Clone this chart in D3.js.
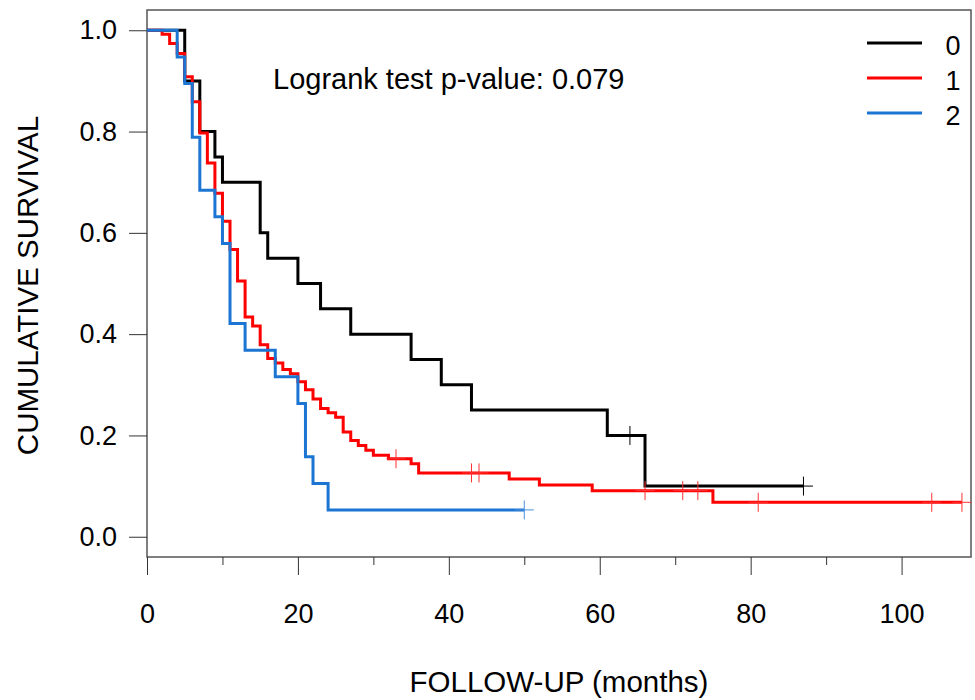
<!DOCTYPE html>
<html>
<head>
<meta charset="utf-8">
<script src="https://cdn.jsdelivr.net/npm/d3@7"></script>
<style>
  body { margin: 0; background: #fff; }
  text { font-family: "Liberation Sans", Arial, sans-serif; }
</style>
</head>
<body>
<div id="chart"></div>
<script>
// Set the dimensions of the picture
const width = 975, height = 700;
const plot = { left: 147, right: 971, top: 10, bottom: 557 };

// ---- data ----
const groups = ["0", "1", "2"];
const colors = ["#000000", "#ff0000", "#1c75d2"];
const censorColors = ["#000000", "#ff3030", "#4a90dc"];

// group 0 (step times and survival after each step; last point = end of follow-up)
const times0 = [0, 5, 7, 9, 10, 15, 16, 20, 23, 27, 35, 39, 43, 61, 66, 87];
const surv0  = [1, 0.9, 0.8, 0.75, 0.7, 0.6, 0.55, 0.5, 0.45, 0.4, 0.35, 0.3, 0.25, 0.2, 0.1, 0.1];
const censor0 = [64, 87];

// group 1
const times1 = [0, 2, 3, 4, 5, 6, 7, 8, 9, 10, 11, 12, 13, 14, 15, 16, 17, 18, 19, 20,
                21, 22, 23, 24, 25, 26, 27, 28, 29, 30, 32, 35, 36, 48, 52, 59, 75, 108];
const surv1  = [1, 0.992, 0.974, 0.954, 0.908, 0.859, 0.797, 0.738, 0.678, 0.623, 0.567, 0.505, 0.434, 0.416, 0.379, 0.352, 0.343, 0.330, 0.322, 0.306,
                0.29, 0.272, 0.253, 0.245, 0.236, 0.207, 0.19, 0.18, 0.171, 0.161, 0.154, 0.144, 0.126, 0.114, 0.102, 0.091, 0.068, 0.068];
const censor1 = [33, 43, 44, 66, 71, 73, 81, 104, 108];

// group 2
const times2 = [0, 4, 5, 6, 7, 9, 10, 11, 13, 17, 20, 21, 22, 24, 50];
const surv2  = [1, 0.947, 0.895, 0.789, 0.684, 0.632, 0.579, 0.421, 0.368, 0.316, 0.263, 0.158, 0.105, 0.053, 0.053];
const censor2 = [50];

const xTicks = [0, 20, 40, 60, 80, 100];
const xMinorTicks = [10, 30, 50, 70, 90];
const yTicks = [0, 0.2, 0.4, 0.6, 0.8, 1.0];
const pValueText = "Logrank test p-value: 0.079";

const series = [
  { times: times0, surv: surv0, censor: censor0 },
  { times: times1, surv: surv1, censor: censor1 },
  { times: times2, surv: surv2, censor: censor2 }
];

// ---- drawing ----
const svg = d3.select("#chart").append("svg")
    .attr("width", width)
    .attr("height", height);

const x = d3.scaleLinear().domain([0, 109.2]).range([plot.left, plot.right]);
const y = d3.scaleLinear().domain([-0.04, 1.04]).range([plot.bottom, plot.top]);

// box
svg.append("rect")
    .attr("x", plot.left)
    .attr("y", plot.top)
    .attr("width", plot.right - plot.left)
    .attr("height", plot.bottom - plot.top)
    .attr("fill", "none")
    .attr("stroke", "#555")
    .attr("stroke-width", 1.5);

// x axis
const xAxis = svg.append("g")
    .attr("transform", `translate(0,${plot.bottom})`)
    .call(d3.axisBottom(x).tickValues(xTicks).tickSize(18).tickPadding(29).tickFormat(d3.format("d")));
xAxis.select(".domain").remove();
xAxis.selectAll("line").attr("stroke", "#333");
xAxis.selectAll("text").attr("font-size", 27).attr("fill", "#000")
    .attr("font-family", "'Liberation Sans', Arial, sans-serif");

const xMinor = svg.append("g")
    .attr("transform", `translate(0,${plot.bottom})`)
    .call(d3.axisBottom(x).tickValues(xMinorTicks).tickSize(8).tickFormat(""));
xMinor.select(".domain").remove();
xMinor.selectAll("line").attr("stroke", "#333");

// y axis
const yAxis = svg.append("g")
    .attr("transform", `translate(${plot.left},0)`)
    .call(d3.axisLeft(y).tickValues(yTicks).tickSize(18).tickPadding(12).tickFormat(d3.format(".1f")));
yAxis.select(".domain").remove();
yAxis.selectAll("line").attr("stroke", "#333");
yAxis.selectAll("text").attr("font-size", 27).attr("fill", "#000")
    .attr("font-family", "'Liberation Sans', Arial, sans-serif");

// axis titles
svg.append("text")
    .attr("x", (plot.left + plot.right) / 2)
    .attr("y", 692)
    .attr("text-anchor", "middle")
    .attr("font-size", 29.5)
    .text("FOLLOW-UP (months)");

svg.append("text")
    .attr("transform", `translate(38,${(plot.top + plot.bottom) / 2 + 2}) rotate(-90)`)
    .attr("text-anchor", "middle")
    .attr("font-size", 29.5)
    .text("CUMULATIVE SURVIVAL");

// p-value note
svg.append("text")
    .attr("x", 273)
    .attr("y", 89)
    .attr("font-size", 29)
    .text(pValueText);

// survival curves
const stepLine = d3.line()
    .x(d => x(d[0]))
    .y(d => y(d[1]))
    .curve(d3.curveStepAfter);

function survAt(s, t) {
  let v = s.surv[0];
  s.times.forEach((tt, i) => { if (tt <= t) v = s.surv[i]; });
  return v;
}

series.forEach((s, i) => {
  const pts = s.times.map((t, k) => [t, s.surv[k]]);
  svg.append("path")
      .attr("d", stepLine(pts))
      .attr("fill", "none")
      .attr("stroke", colors[i])
      .attr("stroke-width", 3)
      .attr("stroke-linejoin", "miter");

  // censor marks
  const g = svg.append("g").attr("stroke", censorColors[i]).attr("stroke-width", 1);
  s.censor.forEach(t => {
    const cx = x(t), cy = y(survAt(s, t));
    g.append("line").attr("x1", cx).attr("x2", cx).attr("y1", cy - 9.5).attr("y2", cy + 9.5);
    g.append("line").attr("x1", cx - 9.5).attr("x2", cx + 9.5).attr("y1", cy).attr("y2", cy);
  });
});

// legend
const legend = svg.append("g");
groups.forEach((name, i) => {
  const ly = 43 + i * 35;
  legend.append("line")
      .attr("x1", 867).attr("x2", 922)
      .attr("y1", ly).attr("y2", ly)
      .attr("stroke", colors[i])
      .attr("stroke-width", 3);
  legend.append("text")
      .attr("x", 953)
      .attr("y", ly + 12)
      .attr("text-anchor", "middle")
      .attr("font-size", 27)
      .text(name);
});
</script>
</body>
</html>
